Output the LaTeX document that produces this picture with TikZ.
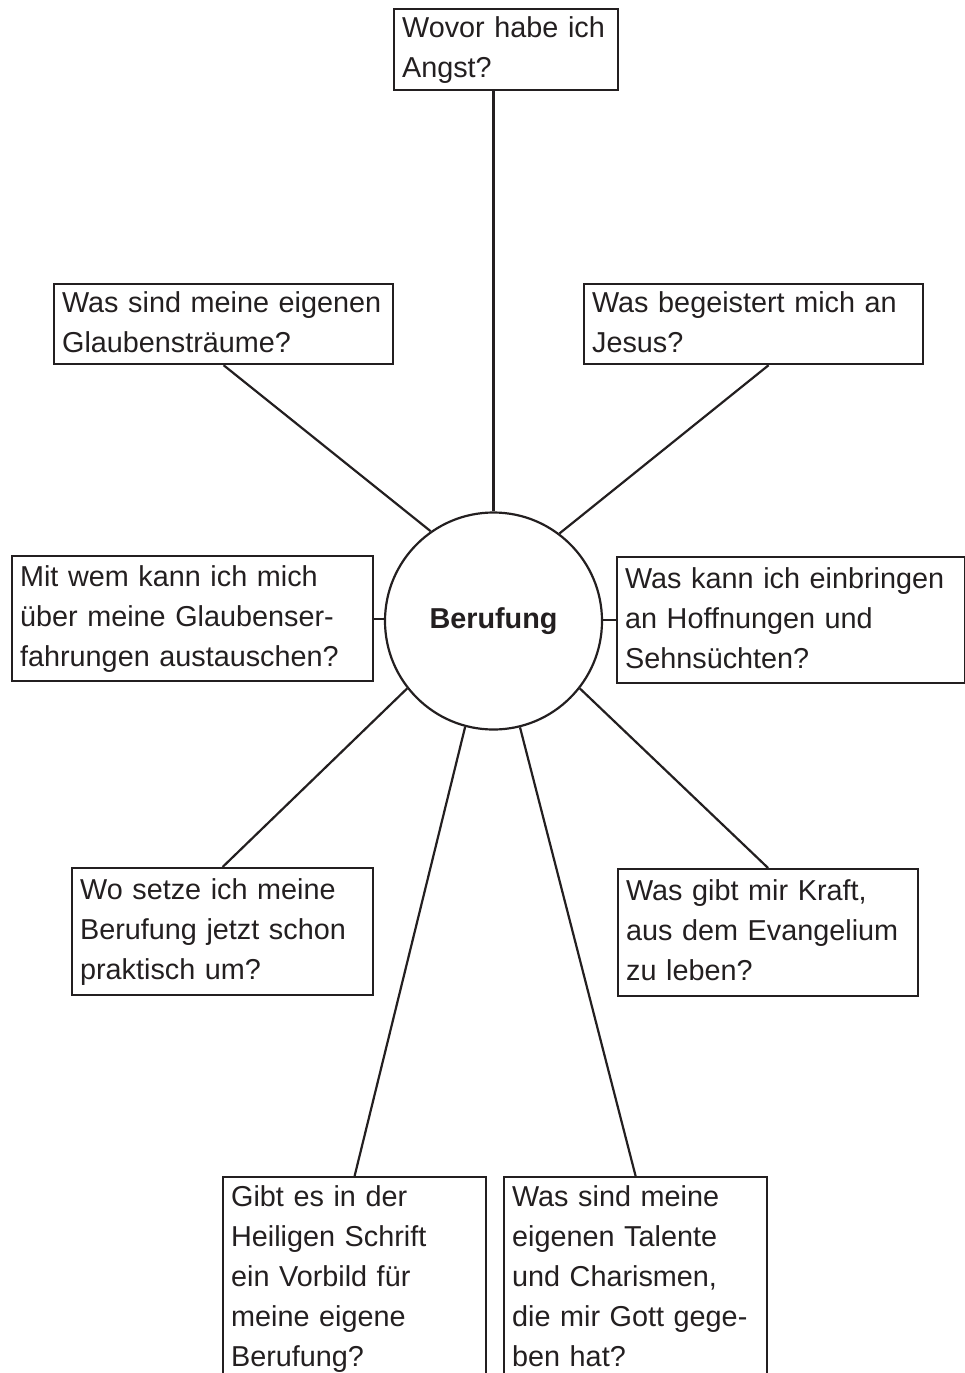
\documentclass[tikz,border=0pt]{standalone}
\usepackage{fontspec}
\setmainfont{Liberation Sans}
\definecolor{dunkel}{HTML}{231F20}
\tikzstyle{frage} = [rectangle, draw=dunkel, line width=2.2pt, text=dunkel, anchor=north west, align=left, inner xsep=8pt, inner ysep=0pt, font=\fontsize{28.8}{40}\selectfont, execute at begin node=\strut, execute at end node=\strut]
\tikzstyle{zentrum} = [circle, draw=dunkel, line width=2.2pt, minimum size=217pt, text=dunkel, font=\fontsize{28.8}{40}\selectfont\bfseries]
\tikzstyle{linie} = [draw=dunkel, line width=2.2pt]

\begin{document}
\begin{tikzpicture}[x=1pt, y=-1pt]
    \useasboundingbox (0,0) rectangle (965,1373);

        \node (beruf) [zentrum] at (493.5,621) {Berufung};
        \node (angst) [frage, text width=208pt, minimum height=81pt] at (393,8) {Wovor habe ich\\Angst?};
        \node (glaube) [frage, text width=323pt, minimum height=79pt] at (53,283) {Was sind meine eigenen\\Glaubensträume?};
        \node (jesus) [frage, text width=323pt, minimum height=78pt] at (583,283) {Was begeistert mich an\\Jesus?};
        \node (mitwem) [frage, text width=345pt, minimum height=125pt] at (11,555) {Mit wem kann ich mich\\über meine Glaubenser-\\fahrungen austauschen?};
        \node (hoffnung) [frage, text width=332pt, minimum height=126pt] at (616,556) {Was kann ich einbringen\\an Hoffnungen und\\Sehnsüchten?};
        \node (praxis) [frage, text width=285pt, minimum height=127pt] at (71,867) {Wo setze ich meine\\Berufung jetzt schon\\praktisch um?};
        \node (kraft) [frage, text width=284pt, minimum height=127pt] at (617,868) {Was gibt mir Kraft,\\aus dem Evangelium\\zu leben?};
        \node (vorbild) [frage, text width=247pt, minimum height=202pt] at (222,1176) {Gibt es in der\\Heiligen Schrift\\ein Vorbild für\\meine eigene\\Berufung?};
        \node (talente) [frage, text width=247pt, minimum height=202pt] at (503,1176) {Was sind meine\\eigenen Talente\\und Charismen,\\die mir Gott gege-\\ben hat?};

        % Linien
        \draw [linie] (angst.south -| beruf.north) -- (beruf.north);
        \draw [linie] (glaube.south) -- (beruf.125.6);
        \draw [linie] ([xshift=15pt]jesus.south) -- (beruf.53.5);
        \draw [linie] (mitwem.east) -- (mitwem.east -| beruf.west);
        \draw [linie] (hoffnung.west) -- (hoffnung.west -| beruf.east);
        \draw [linie] (praxis.north) -- (beruf.218.7);
        \draw [linie] (kraft.north) -- (beruf.-38);
        \draw [linie] (vorbild.north) -- (beruf.255.5);
        \draw [linie] (talente.north) -- (beruf.284.5);

    \end{tikzpicture}
\end{document}
